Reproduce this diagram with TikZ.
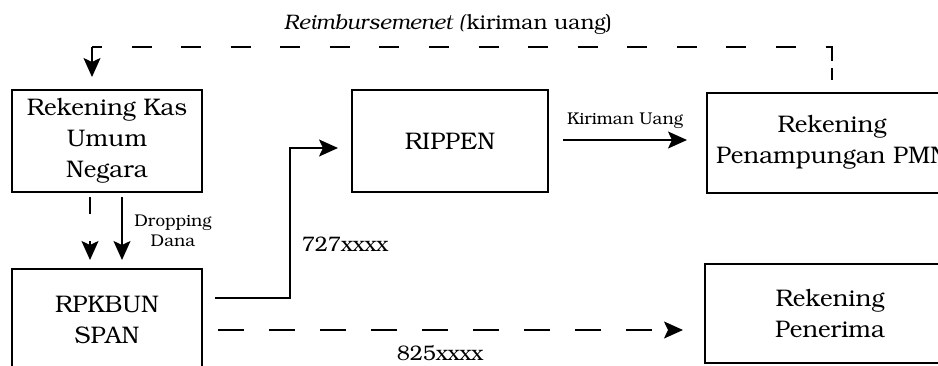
\documentclass[tikz,border=0pt]{standalone}
\usepackage[T1]{fontenc}
\usepackage{bookman}
\usetikzlibrary{arrows.meta}
\tikzset{
  acct/.style={draw, line width=1.8pt, align=center, inner sep=0pt, font=\fontsize{24}{31}\selectfont},
  conn/.style={line width=1.7pt},
  tip/.style={-{Stealth[length=19pt,width=17pt,inset=4pt]}},
  longdash/.style={dash pattern=on 20pt off 29.57pt, dash phase=10pt},
  lbl/.style={inner sep=0pt, font=\fontsize{21}{24}\selectfont},
  small/.style={inner sep=0pt, align=center, font=\fontsize{17}{20}\selectfont}
}
\begin{document}
\begin{tikzpicture}[x=1pt,y=-1pt]
\useasboundingbox (0,0) rectangle (938,365);
\clip (0,0) rectangle (938,365);
% boxes
\node[acct, minimum width=190pt, minimum height=102pt] (rkun) at (107,141) {Rekening Kas\\Umum\\Negara};
\node[acct, minimum width=190pt, minimum height=102pt] (rpk) at (107,320) {RPKBUN\\SPAN};
\node[acct, minimum width=196pt, minimum height=102pt] (rip) at (450,141) {RIPPEN};
\node[acct, minimum width=250pt, minimum height=100pt] (pmn) at (832,143) {Rekening\\Penampungan PMN};
\node[acct, minimum width=250pt, minimum height=99pt] (pen) at (830,313.5) {Rekening\\Penerima};
% free ends
\coordinate (rs) at (832,80);
\coordinate (rm) at (832,68);
\coordinate (rt) at (832,63);
\coordinate (rc) at (92,47);
\coordinate (re) at (92,77);
\coordinate (d1s) at (90,197);
\coordinate (d1e) at (90,260);
\coordinate (d2s) at (122,197);
\coordinate (d2e) at (122,260);
\coordinate (as) at (215,298);
\coordinate (ac) at (290,148);
\coordinate (ae) at (338,148);
\coordinate (ks) at (563,140);
\coordinate (ke) at (687,140);
\coordinate (bs) at (218,330);
\coordinate (be) at (683,330);
% connectors
\draw[conn, longdash] (rc) -| (rt);
\draw[conn] (rm) -- (rs);
\draw[conn, tip] (rc) -- (re);
\draw[conn, dash pattern=on 17pt off 27pt, tip] (d1s) -- (d1e);
\draw[conn, tip] (d2s) -- (d2e);
\draw[conn, tip] (as) -| (ac) -- (ae);
\draw[conn, tip] (ks) -- (ke);
\draw[conn, dash pattern=on 26pt off 25pt, tip] (bs) -- (be);
% labels
\node[lbl] (reim) at (448,24) {\textit{Reimbursemenet (}kiriman uang)};
\node[small] (kir) at (625,121) {Kiriman Uang};
\node[small] (drop) at (173,231) {Dropping\\Dana};
\node[lbl] (l727) at (345,244) {727xxxx};
\node[lbl] (l825) at (440,353) {825xxxx};
\end{tikzpicture}
\end{document}
